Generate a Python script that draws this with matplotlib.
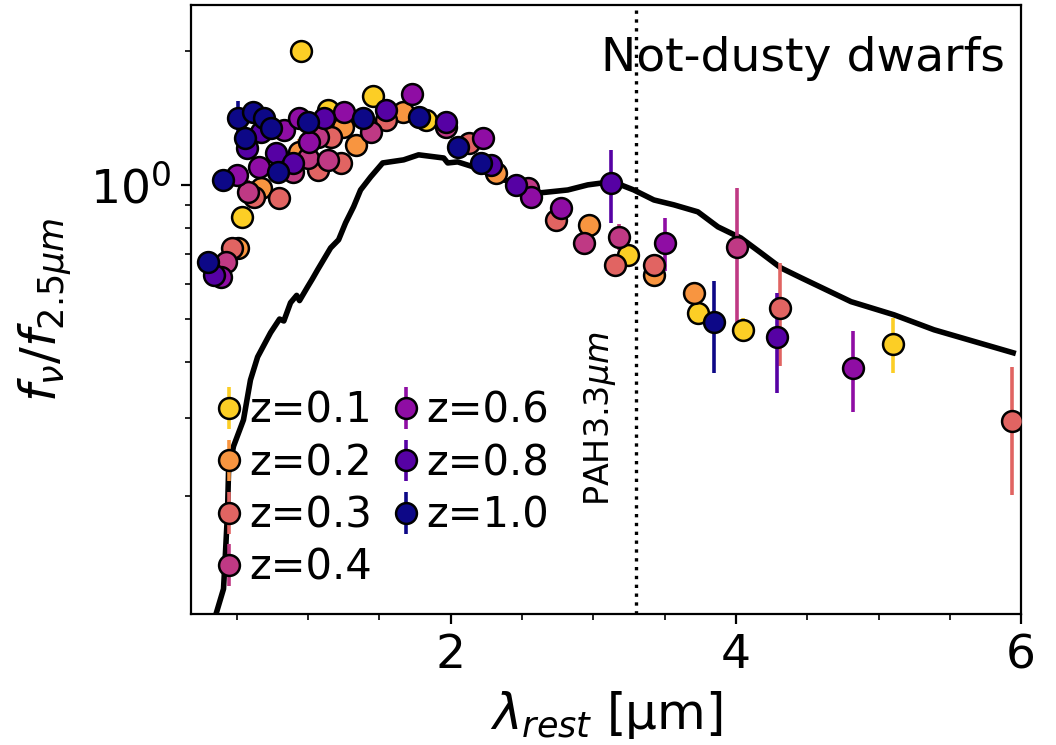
import numpy as np
import matplotlib.pyplot as plt
from matplotlib.ticker import NullFormatter, MultipleLocator

# template SED, normalised at 2.5 um
tmpl_wl = [0.351, 0.407, 0.421, 0.435, 0.442, 0.477, 0.547, 0.596, 0.646, 0.737,
           0.80, 0.83, 0.877, 0.92, 0.94, 0.996, 1.03, 1.067, 1.158, 1.214,
           1.263, 1.319, 1.368, 1.439, 1.523, 1.670, 1.775, 1.951, 1.979, 2.049,
           2.161, 2.281, 2.372, 2.512, 2.632, 2.821, 2.961, 3.123, 3.193, 3.284,
           3.425, 3.565, 3.733, 3.874, 4.035, 4.175, 4.316, 4.456, 4.807, 5.109,
           5.389, 5.944]
tmpl_f = [0.108, 0.124, 0.150, 0.184, 0.226, 0.259, 0.297, 0.365, 0.411, 0.466,
          0.50, 0.495, 0.544, 0.565, 0.550, 0.590, 0.615, 0.645, 0.722, 0.753,
          0.822, 0.893, 0.974, 1.042, 1.120, 1.138, 1.168, 1.149, 1.120, 1.126,
          1.097, 1.064, 1.026, 1.000, 0.960, 0.974, 1.000, 1.016, 1.000, 0.974,
          0.925, 0.902, 0.870, 0.805, 0.760, 0.704, 0.651, 0.619, 0.547, 0.511,
          0.473, 0.420]

z_labels = ['z=0.1', 'z=0.2', 'z=0.3', 'z=0.4', 'z=0.6', 'z=0.8', 'z=1.0']

wl_z01 = [0.540, 0.947, 1.137, 1.453, 1.825, 3.242, 3.733, 4.049, 5.102]
f_z01 = [0.848, 1.997, 1.473, 1.584, 1.399, 0.697, 0.516, 0.473, 0.440]
e_z01 = [0.03, 0.03, 0.03, 0.03, 0.03, 0.03, 0.03, 0.03, 0.062]

wl_z02 = [0.512, 0.667, 0.933, 1.242, 1.333, 1.663, 2.316, 2.968, 3.425, 3.705]
f_z02 = [0.722, 0.985, 1.186, 1.349, 1.229, 1.458, 1.064, 0.813, 0.628, 0.573]
e_z02 = [0.03, 0.04, 0.08, 0.03, 0.03, 0.03, 0.03, 0.03, 0.03, 0.03]

wl_z03 = [0.470, 0.618, 0.793, 1.067, 1.158, 1.228, 1.544, 2.126, 2.737, 3.151,
          3.425, 4.309, 5.937]
f_z03 = [0.722, 0.940, 0.935, 1.080, 1.281, 1.120, 1.399, 1.242, 0.835, 0.662,
         0.662, 0.530, 0.296]
e_z03 = [0.03, 0.04, 0.04, 0.04, 0.03, 0.03, 0.03, 0.03, 0.03, 0.03,
         0.03, 0.138, 0.095]

wl_z04 = [0.421, 0.582, 0.891, 0.996, 1.067, 1.137, 1.439, 1.965, 2.540, 2.933,
          3.179, 4.007]
f_z04 = [0.672, 0.964, 1.069, 1.150, 1.281, 1.138, 1.315, 1.349, 0.985, 0.741,
         0.765, 0.726]
e_z04 = [0.03, 0.06, 0.06, 0.04, 0.03, 0.03, 0.03, 0.03, 0.03, 0.03,
         0.05, 0.26]

wl_z06 = [0.386, 0.505, 0.653, 0.828, 0.933, 1.004, 1.249, 1.726, 2.225, 2.561,
          2.772, 3.502, 4.821]
f_z06 = [0.622, 1.053, 1.097, 1.328, 1.413, 1.248, 1.458, 1.600, 1.275, 0.940,
         0.888, 0.741, 0.389]
e_z06 = [0.03, 0.04, 0.06, 0.03, 0.03, 0.03, 0.03, 0.03, 0.03, 0.03,
         0.03, 0.10, 0.08]

wl_z08 = [0.337, 0.575, 0.667, 0.772, 0.891, 1.109, 1.544, 1.965, 2.281, 2.456,
          3.123, 4.288]
f_z08 = [0.628, 1.211, 1.315, 1.180, 1.120, 1.413, 1.473, 1.384, 1.109, 1.000,
         1.010, 0.456]
e_z08 = [0.03, 0.05, 0.06, 0.06, 0.05, 0.03, 0.03, 0.03, 0.03, 0.03,
         0.19, 0.115]

wl_z10 = [0.295, 0.400, 0.512, 0.561, 0.611, 0.688, 0.737, 0.786, 0.996, 1.382,
          1.775, 2.049, 2.211, 3.846]
f_z10 = [0.672, 1.026, 1.413, 1.275, 1.458, 1.413, 1.342, 1.069, 1.384, 1.413,
         1.420, 1.217, 1.120, 0.493]
e_z10 = [0.04, 0.04, 0.13, 0.05, 0.06, 0.08, 0.04, 0.04, 0.03, 0.03,
         0.03, 0.03, 0.03, 0.115]

series = [(wl_z01, f_z01, e_z01), (wl_z02, f_z02, e_z02), (wl_z03, f_z03, e_z03),
          (wl_z04, f_z04, e_z04), (wl_z06, f_z06, e_z06), (wl_z08, f_z08, e_z08),
          (wl_z10, f_z10, e_z10)]
colors = plt.cm.plasma(np.linspace(0.9, 0.0, len(series)))

fig, ax = plt.subplots(figsize=(5.28, 3.725), dpi=200)
fig.subplots_adjust(left=0.181, right=0.967, top=0.993, bottom=0.176)

ax.plot(tmpl_wl, tmpl_f, color='k', lw=2, zorder=1)

for (wl, f, e), c, lab in zip(series, colors, z_labels):
    ax.errorbar(wl, f, yerr=e, fmt='o', color=c, mec='k', mew=0.9, ms=7.5,
                elinewidth=1.3, capsize=0, label=lab, zorder=3)

ax.axvline(3.3, color='k', ls=':', lw=1.2)
ax.text(3.17, 0.19, r'PAH3.3$\mu m$', rotation=90, ha='right', va='bottom',
        fontsize=12)
ax.text(0.98, 0.95, 'Not-dusty dwarfs', transform=ax.transAxes,
        ha='right', va='top', fontsize=17)

ax.set_yscale('log')
ax.set_xlim(0.18, 6.0)
ax.set_ylim(0.109, 2.53)
ax.xaxis.set_major_locator(MultipleLocator(2))
ax.xaxis.set_minor_locator(MultipleLocator(0.5))
ax.yaxis.set_minor_formatter(NullFormatter())
ax.tick_params(labelsize=17)

ax.set_xlabel(r'$\lambda_{rest}$ [µm]', fontsize=18)
ax.set_ylabel(r'$f_{\nu}/f_{2.5\mu m}$', fontsize=18, labelpad=6)

ax.legend(ncol=2, loc='lower left', frameon=False, fontsize=15,
          handlelength=0.6, handletextpad=0.2, columnspacing=0.5,
          labelspacing=0.25, borderaxespad=0.2)

fig.savefig('out.png', dpi=200)
